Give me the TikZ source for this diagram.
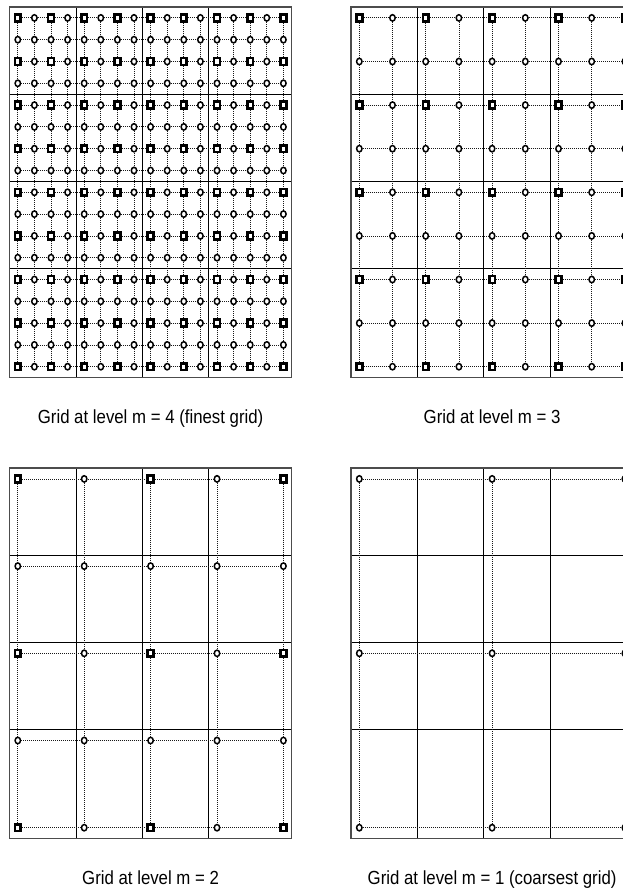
\documentclass[tikz,border=0pt]{standalone}
\usepackage{fontspec}
\setmainfont{Liberation Sans}
\usetikzlibrary{shapes.geometric}
\tikzset{
  finepoint/.style={ellipse, draw, line width=1.5pt, fill=white, inner sep=0pt, minimum width=5.4pt, minimum height=6.4pt},
  coarsepoint/.style={rectangle, draw, line width=2.6pt, fill=white, inner sep=0pt, minimum width=5.8pt, minimum height=6.8pt},
  gridlink/.style={line width=0.8pt, black!90, dash pattern=on 0.9pt off 1.1pt},
  cellline/.style={line width=0.8pt},
  panelframe/.style={line width=1.4pt, black!70},
  panellabel/.style={font=\fontsize{16.8}{20}\selectfont, anchor=base}
}
\def\cw{16.6}
\def\ch{21.8}

\begin{document}
\begin{tikzpicture}[x=1pt, y=-1pt]
    \useasboundingbox (0,0) rectangle (623,888);
    \clip (0,0) rectangle (623,888);
    \foreach \ox/\oy/\lev/\tag/\txt in {9.5/7/4/a/{Grid at level m = 4 (finest grid)},
                                       351/7/3/b/{Grid at level m = 3},
                                       9.5/468/2/c/{Grid at level m = 2},
                                       351/468/1/d/{Grid at level m = 1 (coarsest grid)}} {
       \pgfmathtruncatemacro{\st}{2^(4-\lev)}
       \pgfmathtruncatemacro{\sq}{2*\st}
       % coarse cells
       \foreach \k in {4,8,12} {
          \draw[cellline] ({\ox+\k*\cw},\oy) -- ({\ox+\k*\cw},{\oy+17*\ch});
          \draw[cellline] (\ox,{\oy+\k*\ch}) -- ({\ox+17*\cw},{\oy+\k*\ch});
       }
       \draw[panelframe] (\ox,\oy) rectangle ({\ox+17*\cw},{\oy+17*\ch});
       % grid points
       \foreach \i in {0,\st,...,16} {
          \foreach \j in {0,\st,...,16} {
             \pgfmathtruncatemacro{\issq}{(\lev>1 && mod(\i,\sq)==0 && mod(\j,\sq)==0) ? 1 : 0}
             \ifnum\issq=1 \def\mk{coarsepoint}\else\def\mk{finepoint}\fi
             \node[\mk] (\tag-\i-\j) at ({\ox+(\i+0.5)*\cw},{\oy+(\j+0.5)*\ch}) {};
          }
       }
       % dotted links
       \foreach \i in {0,\st,...,16} {
          \foreach \j in {0,\st,...,16} {
             \pgfmathtruncatemacro{\ni}{\i+\st}
             \ifnum\i<16 \draw[gridlink] (\tag-\i-\j) -- (\tag-\ni-\j); \fi
             \ifnum\i<16 \draw[gridlink] (\tag-\j-\i) -- (\tag-\j-\ni); \fi
          }
       }
       \node[panellabel] (\tag-label) at ({\ox+8.5*\cw},{\oy+416}) {\scalebox{1}[1.13]{\txt}};
    }
\end{tikzpicture}
\end{document}
